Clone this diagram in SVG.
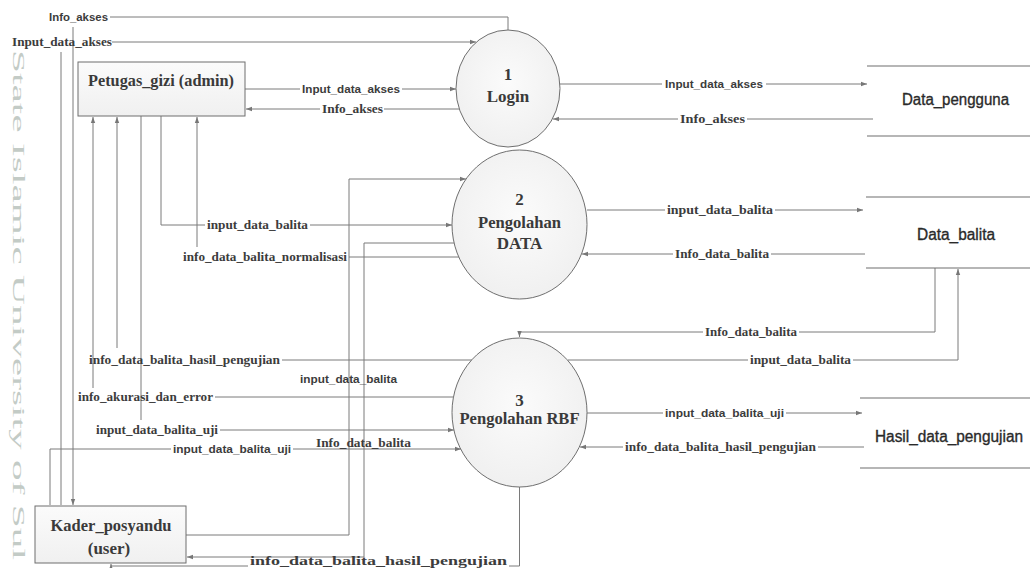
<svg xmlns="http://www.w3.org/2000/svg" width="1030" height="568" viewBox="0 0 1030 568">
<defs>
<marker id="arr" viewBox="0 0 6 6" refX="6" refY="3" markerWidth="6" markerHeight="6" orient="auto" markerUnits="userSpaceOnUse"><path d="M0,0.8 L6,3 L0,5.2 z" fill="#777"/></marker>
<radialGradient id="cg" cx="50%" cy="45%" r="60%"><stop offset="0" stop-color="#fbfbfb"/><stop offset="1" stop-color="#efefef"/></radialGradient>
<linearGradient id="bg" x1="0" y1="0" x2="0" y2="1"><stop offset="0" stop-color="#fbfbfb"/><stop offset="1" stop-color="#f0f0f0"/></linearGradient>
<style>
.ln{fill:none;stroke:#7a7a7a;stroke-width:1}
.ar{marker-end:url(#arr)}
.lt{font-family:"Liberation Serif",serif;font-weight:bold;font-size:12px;fill:#3c3c3c}
.ls{font-family:"Liberation Sans",sans-serif;font-weight:bold;font-size:11px;fill:#3c3c3c}
.nt{font-family:"Liberation Serif",serif;font-weight:bold;font-size:17px;fill:#3a3a3a;text-anchor:middle}
.st{font-family:"Liberation Sans",sans-serif;font-size:16px;fill:#2a2a2a;stroke:#2a2a2a;stroke-width:0.35}
.proc{fill:url(#cg);stroke:#6f6f6f;stroke-width:1}
.ent{fill:url(#bg);stroke:#6f6f6f;stroke-width:1}
.store{stroke:#6f6f6f;stroke-width:1.2}
.wm{font-family:"Liberation Serif",serif}
</style>
</defs>
<rect width="1030" height="568" fill="#ffffff"/>
<g id="watermark">
<text class="wm" transform="translate(13,50) rotate(90)" font-size="17" fill="#c3cbc6" textLength="510" lengthAdjust="spacingAndGlyphs">State Islamic University of Sul</text>
</g>
<g id="connectors">
<path class="ln ar" d="M508,30 V17 H110 M73,27 V505"/>
<path class="ln ar" d="M61,505 V52 M112,42 H476"/>
<path class="ln ar" d="M245,89 H300 M402,89 H456"/>
<path class="ln ar" d="M459,109 H384 M320,109 H246"/>
<path class="ln ar" d="M161,116 V225 H205 M310,225 H452"/>
<path class="ln ar" d="M459,257 H349 M197,247 V117"/>
<path class="ln ar" d="M186,535 H349 V179 H466"/>
<path class="ln ar" d="M454,243 H364 V557 H187"/>
<path class="ln ar" d="M141,116 V420 M220,430 H454"/>
<path class="ln ar" d="M472,360 H282 M117,348 V117"/>
<path class="ln ar" d="M453,397 H215 M93,388 V117"/>
<path class="ln ar" d="M50,505 V449 H171 M293,449 H461"/>
<path class="ln ar" d="M519.5,487 V566 H509 M248,566 H111 V564"/>
<path class="ln ar" d="M560,84 H662 M766,84 H867"/>
<path class="ln ar" d="M873,119 H747 M678,119 H553"/>
<path class="ln ar" d="M587,210 H665 M775,210 H863"/>
<path class="ln ar" d="M865,254 H771 M673,254 H582"/>
<path class="ln ar" d="M935,268 V332 H799 M703,332 H519.5 V337"/>
<path class="ln ar" d="M568,360 H748 M853,360 H958 V269"/>
<path class="ln ar" d="M587,413 H663 M786,413 H862"/>
<path class="ln ar" d="M864,447 H818 M623,447 H580"/>
<text class="ls" x="49" y="21" textLength="59" lengthAdjust="spacingAndGlyphs">Info_akses</text>
<text class="lt" x="12" y="46" textLength="100" lengthAdjust="spacingAndGlyphs">Input_data_akses</text>
<text class="ls" x="302" y="93" textLength="98" lengthAdjust="spacingAndGlyphs">Input_data_akses</text>
<text class="lt" x="322" y="113" textLength="61" lengthAdjust="spacingAndGlyphs">Info_akses</text>
<text class="lt" x="207" y="229" textLength="101" lengthAdjust="spacingAndGlyphs">input_data_balita</text>
<text class="lt" x="183" y="261" textLength="164" lengthAdjust="spacingAndGlyphs">info_data_balita_normalisasi</text>
<text class="ls" x="300" y="383" textLength="97" lengthAdjust="spacingAndGlyphs">input_data_balita</text>
<text class="lt" x="316" y="447" textLength="95" lengthAdjust="spacingAndGlyphs">Info_data_balita</text>
<text class="lt" x="96" y="434" textLength="122" lengthAdjust="spacingAndGlyphs">input_data_balita_uji</text>
<text class="lt" x="89" y="364" textLength="191" lengthAdjust="spacingAndGlyphs">info_data_balita_hasil_pengujian</text>
<text class="lt" x="78" y="401" textLength="135" lengthAdjust="spacingAndGlyphs">info_akurasi_dan_error</text>
<text class="ls" x="173" y="453" textLength="118" lengthAdjust="spacingAndGlyphs">input_data_balita_uji</text>
<text class="lt" x="250" y="565" font-size="13" textLength="257" lengthAdjust="spacingAndGlyphs">info_data_balita_hasil_pengujian</text>
<text class="ls" x="665" y="88" textLength="98" lengthAdjust="spacingAndGlyphs">Input_data_akses</text>
<text class="lt" x="680" y="123" textLength="65" lengthAdjust="spacingAndGlyphs">Info_akses</text>
<text class="lt" x="667" y="214" textLength="106" lengthAdjust="spacingAndGlyphs">input_data_balita</text>
<text class="lt" x="675" y="258" textLength="94" lengthAdjust="spacingAndGlyphs">Info_data_balita</text>
<text class="lt" x="705" y="336" textLength="92" lengthAdjust="spacingAndGlyphs">Info_data_balita</text>
<text class="lt" x="750" y="364" textLength="101" lengthAdjust="spacingAndGlyphs">input_data_balita</text>
<text class="ls" x="665" y="417" textLength="119" lengthAdjust="spacingAndGlyphs">input_data_balita_uji</text>
<text class="lt" x="625" y="451" textLength="191" lengthAdjust="spacingAndGlyphs">info_data_balita_hasil_pengujian</text>
</g>
<g id="petugas_gizi">
<rect class="ent" x="78" y="62" width="167" height="54"/>
<text class="nt" x="161" y="86" font-size="18" textLength="146" lengthAdjust="spacingAndGlyphs">Petugas_gizi (admin)</text>
</g>
<g id="kader_posyandu">
<rect class="ent" x="35" y="506" width="151" height="57"/>
<text class="nt" x="111" y="531" font-size="19" textLength="121" lengthAdjust="spacingAndGlyphs">Kader_posyandu</text>
<text class="nt" x="109" y="554" font-size="19">(user)</text>
</g>
<g id="p1_login">
<ellipse class="proc" cx="508" cy="88.5" rx="52" ry="58.5"/>
<text class="nt" x="508" y="80">1</text>
<text class="nt" x="508" y="102">Login</text>
</g>
<g id="p2_pengolahan_data">
<ellipse class="proc" cx="519.5" cy="224.5" rx="67.5" ry="74.5"/>
<text class="nt" x="519.5" y="205">2</text>
<text class="nt" x="519.5" y="228" textLength="83" lengthAdjust="spacingAndGlyphs">Pengolahan</text>
<text class="nt" x="519.5" y="249">DATA</text>
</g>
<g id="p3_pengolahan_rbf">
<ellipse class="proc" cx="519.5" cy="412.5" rx="67.5" ry="74.5"/>
<text class="nt" x="519.5" y="406">3</text>
<text class="nt" x="519.5" y="424" textLength="120" lengthAdjust="spacingAndGlyphs">Pengolahan RBF</text>
</g>
<g id="ds_data_pengguna">
<line class="store" x1="867" y1="66" x2="1030" y2="66"/>
<line class="store" x1="867" y1="136" x2="1030" y2="136"/>
<text class="st" x="902" y="105" textLength="107" lengthAdjust="spacingAndGlyphs">Data_pengguna</text>
</g>
<g id="ds_data_balita">
<line class="store" x1="866" y1="197" x2="1030" y2="197"/>
<line class="store" x1="866" y1="268" x2="1030" y2="268"/>
<text class="st" x="917" y="240" textLength="78" lengthAdjust="spacingAndGlyphs">Data_balita</text>
</g>
<g id="ds_hasil_data_pengujian">
<line class="store" x1="860" y1="398" x2="1030" y2="398"/>
<line class="store" x1="860" y1="468" x2="1030" y2="468"/>
<text class="st" x="875" y="442" textLength="148" lengthAdjust="spacingAndGlyphs">Hasil_data_pengujian</text>
</g>
</svg>
